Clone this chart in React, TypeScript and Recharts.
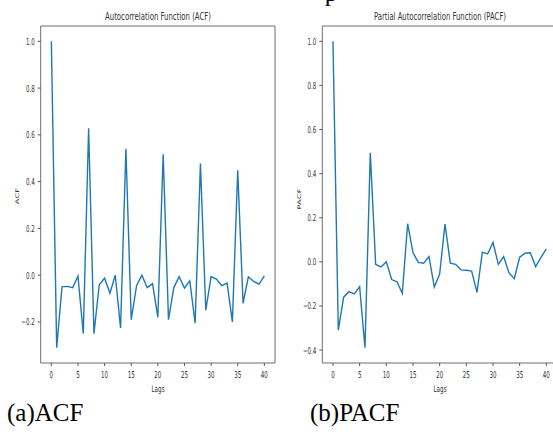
import React from "react";
import { LineChart, Line, XAxis, YAxis, ReferenceArea } from "recharts";

const lags = [0, 1, 2, 3, 4, 5, 6, 7, 8, 9, 10, 11, 12, 13, 14, 15, 16, 17, 18, 19, 20, 21, 22, 23, 24, 25, 26, 27, 28, 29, 30, 31, 32, 33, 34, 35, 36, 37, 38, 39, 40];

const acfValues = [1.0, -0.31, -0.05, -0.048, -0.053, -0.004, -0.25, 0.628, -0.25, -0.04, -0.013, -0.077, 0.0, -0.226, 0.54, -0.19, -0.045, 0.0, -0.053, -0.036, -0.18, 0.517, -0.19, -0.053, -0.006, -0.055, -0.024, -0.205, 0.477, -0.15, -0.006, -0.017, -0.045, -0.034, -0.2, 0.449, -0.12, -0.007, -0.027, -0.038, -0.003];

const pacfValues = [1.0, -0.309, -0.16, -0.135, -0.145, -0.112, -0.389, 0.495, -0.011, -0.023, 0.0, -0.08, -0.09, -0.142, 0.173, 0.042, -0.002, -0.006, 0.024, -0.114, -0.055, 0.171, -0.006, -0.011, -0.036, -0.038, -0.042, -0.138, 0.044, 0.036, 0.088, -0.011, 0.024, -0.05, -0.076, 0.021, 0.039, 0.041, -0.021, 0.021, 0.059];

const xTicks = [0, 5, 10, 15, 20, 25, 30, 35, 40];
const acfYTicks = [-0.2, 0.0, 0.2, 0.4, 0.6, 0.8, 1.0];
const pacfYTicks = [-0.4, -0.2, 0.0, 0.2, 0.4, 0.6, 0.8, 1.0];

const acfTitle = "Autocorrelation Function (ACF)";
const pacfTitle = "Partial Autocorrelation Function (PACF)";
const acfYLabel = "ACF";
const pacfYLabel = "PACF";
const xLabel = "Lags";
const captionA = "(a)ACF";
const captionB = "(b)PACF";

const acfData = lags.map((l, i) => ({ lag: l, v: acfValues[i] }));
const pacfData = lags.map((l, i) => ({ lag: l, v: pacfValues[i] }));

const padDomain = (vals: number[]): [number, number] => {
  const mn = Math.min(...vals);
  const mx = Math.max(...vals);
  const m = (mx - mn) * 0.05;
  return [mn - m, mx + m];
};

const LINE = "#1f77b4";
const SPINE = "#6f6f6f";
const TXT = "#333";
const SQ = 0.58;

const fmtY = (v: number) => v.toFixed(1).replace("-", "\u2212");

const YTick = (props: any) => {
  const { x, y, payload } = props;
  return (
    <text
      transform={`translate(${x},${y}) scale(${SQ},1)`}
      textAnchor="end"
      dy="0.36em"
      fontSize={9.5}
      fill={TXT}
      fontFamily="DejaVu Sans"
    >
      {fmtY(payload.value)}
    </text>
  );
};

const XTick = (props: any) => {
  const { x, y, payload } = props;
  return (
    <text
      transform={`translate(${x},${y}) scale(${SQ},1)`}
      textAnchor="middle"
      dy="0.75em"
      fontSize={9.5}
      fill={TXT}
      fontFamily="DejaVu Sans"
    >
      {String(payload.value)}
    </text>
  );
};

type PanelProps = {
  data: { lag: number; v: number }[];
  values: number[];
  yTicks: number[];
  left: number;
  yAxisWidth: number;
};

const Panel = ({ data, values, yTicks, left, yAxisWidth }: PanelProps) => {
  const dom = padDomain(values);
  return (
    <div style={{ position: "absolute", left, top: 0 }}>
      <LineChart
        width={290}
        height={432}
        data={data}
        margin={{ top: 26, right: 15, bottom: 39, left: 0 }}
      >
        <XAxis
          dataKey="lag"
          type="number"
          domain={[-2, 42]}
          ticks={xTicks}
          allowDataOverflow
          height={30}
          axisLine={false}
          tickLine={{ stroke: "#555" }}
          tickSize={3}
          tickMargin={5}
          tick={<XTick />}
          interval={0}
        />
        <YAxis
          type="number"
          domain={dom}
          ticks={yTicks}
          allowDataOverflow
          width={yAxisWidth}
          axisLine={false}
          tickLine={{ stroke: "#555" }}
          tickSize={3}
          tickMargin={3}
          tick={<YTick />}
          interval={0}
        />
        <ReferenceArea
          x1={-2}
          x2={42}
          y1={dom[0]}
          y2={dom[1]}
          fill="none"
          stroke={SPINE}
          strokeWidth={1}
          ifOverflow="visible"
        />
        <Line
          type="linear"
          dataKey="v"
          stroke={LINE}
          strokeWidth={1.4}
          dot={false}
          isAnimationActive={false}
        />
      </LineChart>
    </div>
  );
};

export default function App() {
  return (
    <div
      style={{
        position: "absolute",
        left: 0,
        top: 0,
        width: 553,
        height: 432,
        overflow: "hidden",
        background: "#fff",
      }}
    >
      <Panel data={acfData} values={acfValues} yTicks={acfYTicks} left={0} yAxisWidth={40.7} />
      <Panel data={pacfData} values={pacfValues} yTicks={pacfYTicks} left={282} yAxisWidth={40.3} />
      <svg
        width={553}
        height={432}
        style={{ position: "absolute", left: 0, top: 0, pointerEvents: "none" }}
      >
        <text
          x={331}
          y={1}
          fontFamily="Liberation Serif"
          fontSize={25}
          fill="#000"
          textAnchor="middle"
        >
          p
        </text>
        <text
          x={158}
          y={20}
          textAnchor="middle"
          fontFamily="DejaVu Sans"
          fontSize={10}
          fill={TXT}
          textLength={106}
          lengthAdjust="spacingAndGlyphs"
        >
          {acfTitle}
        </text>
        <text
          x={440}
          y={20}
          textAnchor="middle"
          fontFamily="DejaVu Sans"
          fontSize={10}
          fill={TXT}
          textLength={132}
          lengthAdjust="spacingAndGlyphs"
        >
          {pacfTitle}
        </text>
        <text
          transform="translate(17,196) rotate(-90) scale(1,0.6)"
          textAnchor="middle"
          dy="0.35em"
          fontFamily="DejaVu Sans"
          fontSize={8.5}
          fill={TXT}
        >
          {acfYLabel}
        </text>
        <text
          transform="translate(299.5,199) rotate(-90) scale(1,0.6)"
          textAnchor="middle"
          dy="0.35em"
          fontFamily="DejaVu Sans"
          fontSize={8.5}
          fill={TXT}
        >
          {pacfYLabel}
        </text>
        <text
          transform={`translate(158,392) scale(${SQ + 0.05},1)`}
          textAnchor="middle"
          fontFamily="DejaVu Sans"
          fontSize={9}
          fill={TXT}
        >
          {xLabel}
        </text>
        <text
          transform={`translate(440,392) scale(${SQ + 0.05},1)`}
          textAnchor="middle"
          fontFamily="DejaVu Sans"
          fontSize={9}
          fill={TXT}
        >
          {xLabel}
        </text>
        <text x={7} y={421} fontFamily="Liberation Serif" fontSize={25} fill="#000">
          {captionA}
        </text>
        <text x={310} y={421} fontFamily="Liberation Serif" fontSize={25} fill="#000">
          {captionB}
        </text>
      </svg>
    </div>
  );
}
